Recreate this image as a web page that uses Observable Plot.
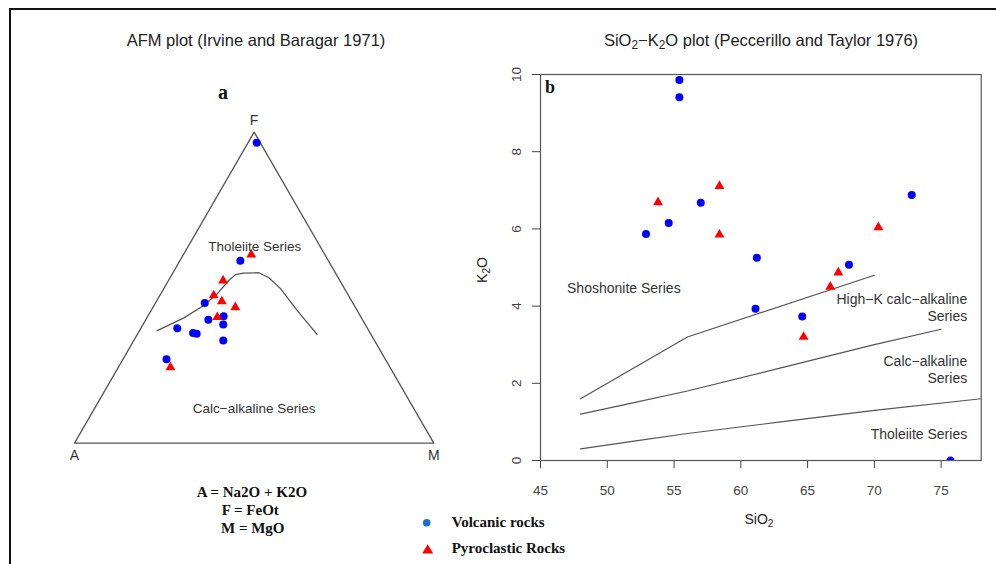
<!DOCTYPE html>
<html>
<head>
<meta charset="utf-8">
<script src="https://cdn.jsdelivr.net/npm/d3@7"></script>
<script src="https://cdn.jsdelivr.net/npm/@observablehq/plot@0.6"></script>
<style>
  body { margin: 0; background: #fff; }
  #page { position: relative; width: 996px; height: 564px; overflow: hidden; background: #fff;
          font-family: "Liberation Sans", Arial, Helvetica, sans-serif; color: #222; }
  .abs { position: absolute; white-space: nowrap; line-height: 1; }
  .c { transform: translate(-50%, -50%); }
  .l { transform: translateY(-50%); }
  .serif { font-family: "Liberation Serif", "Times New Roman", serif; font-weight: bold; color: #111; }
  .sub { font-size: 0.72em; position: relative; top: 0.32em; }
  #outer { position: absolute; left: 9px; top: 8px; width: 1100px; height: 700px;
           border-left: 2px solid #111; border-top: 2px solid #111; }
  #afm, #sio2 { position: absolute; }
  #afm { left: 0; top: 0; }
  #sio2 { left: 460px; top: 40px; }
  #legend { position: absolute; left: 0; top: 0; }
</style>
</head>
<body>
<div id="page">
  <div id="outer"></div>
  <div id="afm"></div>
  <div id="sio2"></div>

  <div class="abs c" style="left:256px; top:40px; font-size:16.5px;">AFM plot (Irvine and Baragar 1971)</div>
  <div class="abs c" style="left:761px; top:39.5px; font-size:16.5px;">SiO<span class="sub">2</span>−K<span class="sub">2</span>O plot (Peccerillo and Taylor 1976)</div>
  <div class="abs c serif" style="left:223px; top:91.5px; font-size:20px;">a</div>

  <div class="abs c" style="left:759px; top:519px; font-size:14px;">SiO<span class="sub">2</span></div>
  <div class="abs" style="left:481.7px; top:270px; font-size:14px; transform: translate(-50%, -50%) rotate(-90deg);">K<span class="sub">2</span>O</div>

  <div class="abs l serif" style="left:196.7px; top:491.6px; font-size:15px;">A = Na2O + K2O</div>
  <div class="abs l serif" style="left:221.7px; top:509.6px; font-size:15px;">F = FeOt</div>
  <div class="abs l serif" style="left:221px; top:528.2px; font-size:15px;">M = MgO</div>

  <svg id="legend" width="996" height="564" style="pointer-events:none">
    <circle cx="426.7" cy="522.7" r="3.8" fill="#1a6fd6"></circle>
    <polygon points="427.7,544.3 422.2,553.4 433.2,553.4" fill="#ff0000"></polygon>
  </svg>
  <div class="abs l serif" style="left:451.7px; top:522.2px; font-size:15px;">Volcanic rocks</div>
  <div class="abs l serif" style="left:451.7px; top:548.2px; font-size:15px;">Pyroclastic Rocks</div>
</div>

<script>
// ---------- AFM ternary data (wt% normalised to A + F + M = 100) ----------
const volcA = [1.0, 24.5, 41.2, 42.9, 38.1, 39.5, 52.9, 49.3, 48.4, 42.1, 60.9];
const volcF = [96.6, 58.7, 45.1, 39.7, 40.8, 38.2, 37.0, 35.4, 35.2, 33.0, 27.0];
const volcM = [2.4, 16.8, 13.7, 17.4, 21.1, 22.3, 10.1, 15.3, 16.4, 24.9, 12.1];

const pyroA = [20.5, 32.5, 37.5, 36.2, 33.4, 40.0, 61.1];
const pyroF = [60.6, 52.3, 47.5, 45.6, 43.7, 40.5, 24.4];
const pyroM = [18.9, 15.2, 15.0, 18.2, 22.9, 19.5, 14.5];

// Irvine & Baragar (1971) tholeiite / calc-alkaline boundary
const ibA = [58.9, 49.4, 41.9, 36.3, 30.9, 28.1, 25.6, 21.3, 19.3, 17.8, 16.7, 15.0];
const ibF = [36.2, 40.3, 44.3, 48.0, 52.3, 54.2, 54.7, 54.8, 53.2, 49.7, 42.7, 35.0];
const ibM = [4.9, 10.3, 13.8, 15.7, 16.8, 17.7, 19.7, 23.9, 27.5, 32.5, 40.6, 50.0];

// triangle corners: A (alkalis), M (MgO), F (FeOt)
const cornerNames = ["A", "M", "F"];
const cornerA = [100, 0, 0];
const cornerF = [0, 0, 100];
const cornerM = [0, 100, 0];

// ---------- SiO2 vs K2O data ----------
const volcSiO2 = [55.4, 55.4, 57.0, 54.6, 52.9, 61.2, 61.1, 64.6, 68.1, 72.8, 75.7];
const volcK2O  = [9.86, 9.41, 6.68, 6.15, 5.87, 5.25, 3.93, 3.73, 5.07, 6.88, 0.0];

const pyroSiO2 = [53.8, 58.4, 58.4, 67.3, 66.7, 64.7, 70.3];
const pyroK2O  = [6.69, 7.11, 5.85, 4.87, 4.50, 3.20, 6.04];

// Peccerillo & Taylor (1976) series boundaries
const thCaSiO2 = [48, 52, 56, 63, 70, 78];
const thCaK2O  = [0.3, 0.5, 0.7, 1.0, 1.3, 1.6];
const caHkSiO2 = [48, 52, 56, 63, 70, 75];
const caHkK2O  = [1.2, 1.5, 1.8, 2.4, 3.0, 3.4];
const hkShSiO2 = [48, 56, 70];
const hkShK2O  = [1.6, 3.2, 4.8];

const xTicks = [45, 50, 55, 60, 65, 70, 75];
const yTicks = [0, 2, 4, 6, 8, 10];

// ---------- helpers ----------
const H = Math.sqrt(3) / 2;
// ternary (A, F, M) -> cartesian: A at left, M at right, F at apex
function tern(A, F, M) {
  const s = A + F + M;
  return {x: (M + F / 2) / s, y: (F / s) * H};
}
function ternRows(As, Fs, Ms, extra = {}) {
  return As.map((a, i) => ({...tern(a, Fs[i], Ms[i]), ...Object.fromEntries(Object.entries(extra).map(([k, v]) => [k, v[i]]))}));
}
const zip = (xs, ys) => xs.map((x, i) => ({x, y: ys[i]}));

const font = "'Liberation Sans', Arial, Helvetica, sans-serif";
const ink = "#555";

// ---------- AFM plot ----------
const corners = ternRows(cornerA, cornerF, cornerM, {name: cornerNames});
const outline = [...corners, corners[0]];
const cornerDy = {A: 12.5, M: 12.5, F: -12};

const afm = Plot.plot({
  width: 480,
  height: 470,
  marginLeft: 74,
  marginRight: 46.7,
  marginTop: 131.7,
  marginBottom: 27.3,
  x: {domain: [0, 1], axis: null},
  y: {domain: [0, H], axis: null},
  style: {fontFamily: font, fontSize: "13.5px", background: "transparent", overflow: "visible"},
  marks: [
    Plot.line(outline, {x: "x", y: "y", stroke: ink, strokeWidth: 1.3}),
    Plot.line(ternRows(ibA, ibF, ibM), {x: "x", y: "y", stroke: ink, strokeWidth: 1.3, curve: "linear"}),
    Plot.dot(ternRows(volcA, volcF, volcM), {x: "x", y: "y", r: 4, fill: "#0000ff"}),
    Plot.dot(ternRows(pyroA, pyroF, pyroM), {x: "x", y: "y", r: 3.7, symbol: "triangle", fill: "#ff0000"}),
    ...corners.map(c => Plot.text([c], {x: "x", y: "y", text: "name", dy: cornerDy[c.name], fontSize: 14, fill: "#333"})),
    Plot.text(["Tholeiite Series"], {x: 0.5015, y: 0.6325 * H, fill: "#333", fontSize: 13.5}),
    Plot.text(["Calc−alkaline Series"], {x: 0.5, y: 0.1125 * H, fill: "#333", fontSize: 13.5})
  ]
});
document.getElementById("afm").appendChild(afm);

// ---------- SiO2 – K2O plot ----------
const sio2 = Plot.plot({
  width: 536,
  height: 500,
  marginLeft: 80,
  marginRight: 15.3,
  marginTop: 34,
  marginBottom: 80,
  x: {domain: [45, 78]},
  y: {domain: [0, 10]},
  style: {fontFamily: font, fontSize: "13.5px", background: "transparent", overflow: "visible"},
  marks: [
    Plot.axisX({ticks: xTicks, tickSize: 8, tickPadding: 17, label: null, color: "#444", fontSize: 13.5}),
    Plot.axisY({ticks: yTicks, tickSize: 8, tickPadding: 12, tickRotate: -90, label: null, color: "#444", fontSize: 13.5}),
    Plot.line(zip(thCaSiO2, thCaK2O), {x: "x", y: "y", stroke: ink, strokeWidth: 1.2, clip: true}),
    Plot.line(zip(caHkSiO2, caHkK2O), {x: "x", y: "y", stroke: ink, strokeWidth: 1.2, clip: true}),
    Plot.line(zip(hkShSiO2, hkShK2O), {x: "x", y: "y", stroke: ink, strokeWidth: 1.2, clip: true}),
    Plot.dot(zip(volcSiO2, volcK2O), {x: "x", y: "y", r: 4, fill: "#0000ff", clip: true}),
    Plot.dot(zip(pyroSiO2, pyroK2O), {x: "x", y: "y", r: 3.7, symbol: "triangle", fill: "#ff0000", clip: true}),
    Plot.frame({stroke: ink, strokeWidth: 1.2}),
    Plot.text(["b"], {frameAnchor: "top-left", dx: 4.5, dy: 5.5, textAnchor: "start", lineAnchor: "top",
                      fontFamily: "'Liberation Serif', 'Times New Roman', serif", fontWeight: "bold", fontSize: 18, fill: "#111"}),
    Plot.text(["Shoshonite Series"], {x: 51.24, y: 4.46, fill: "#333", fontSize: 14}),
    Plot.text(["High−K calc−alkaline\nSeries"], {x: 76.95, y: 3.97, textAnchor: "end", lineHeight: 1.18, fill: "#333", fontSize: 14}),
    Plot.text(["Calc−alkaline\nSeries"], {x: 76.95, y: 2.37, textAnchor: "end", lineHeight: 1.2, fill: "#333", fontSize: 14}),
    Plot.text(["Tholeiite Series"], {x: 76.95, y: 0.67, textAnchor: "end", fill: "#333", fontSize: 14})
  ]
});
document.getElementById("sio2").appendChild(sio2);
</script>
</body>
</html>
